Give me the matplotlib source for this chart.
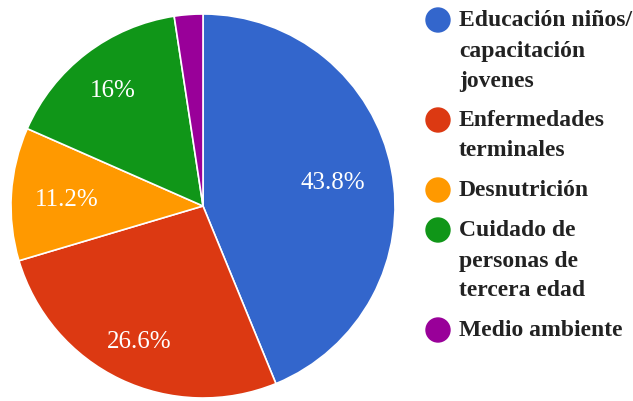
import numpy as np
import matplotlib.pyplot as plt
from matplotlib.patches import Circle

categorias = ["Educación niños/\ncapacitación\njovenes",
              "Enfermedades\nterminales",
              "Desnutrición",
              "Cuidado de\npersonas de\ntercera edad",
              "Medio ambiente"]
valores = [43.8, 26.6, 11.2, 16.0, 2.4]
etiquetas = ["43.8%", "26.6%", "11.2%", "16%", ""]
colores = ["#3366CC", "#DC3912", "#FF9900", "#109618", "#990099"]

W, H = 633, 401
fig = plt.figure(figsize=(W / 100, H / 100), dpi=100)
fig.patch.set_facecolor("white")

# pie: centre (203, 206), radius 192 px
cx, cy, r = 203, 206, 192
ax = fig.add_axes([(cx - r) / W, (H - cy - r) / H, 2 * r / W, 2 * r / H])
wedges, _ = ax.pie(valores, colors=colores, startangle=90, counterclock=False,
                   radius=1.0, wedgeprops=dict(edgecolor="white", linewidth=1.2))
ax.set_xlim(-1, 1)
ax.set_ylim(-1, 1)
ax.set_aspect("equal")
ax.axis("off")

# percentage labels inside wedges
dist = [0.69, 0.77, 0.71, 0.77, 0.7]
for w, txt, d in zip(wedges, etiquetas, dist):
    if not txt:
        continue
    ang = np.deg2rad((w.theta1 + w.theta2) / 2)
    ax.text(d * np.cos(ang), d * np.sin(ang) - 0.015, txt, ha="center", va="center",
            color="white", fontsize=18, family="Liberation Serif")

# legend drawn by hand, one text per line
lx = fig.add_axes([0, 0, 1, 1])
lx.set_xlim(0, W)
lx.set_ylim(H, 0)
lx.axis("off")
y = 20
line_h = 30
gap = 40
for cat, col in zip(categorias, colores):
    lx.add_patch(Circle((438, y), 12, color=col))
    lines = cat.split("\n")
    for i, ln in enumerate(lines):
        lx.text(459, y + i * line_h + 1, ln, ha="left", va="center", color="#222222",
                fontsize=17, fontweight="bold", family="Liberation Serif")
    y += (len(lines) - 1) * line_h + gap

fig.savefig("out.png", dpi=100)
